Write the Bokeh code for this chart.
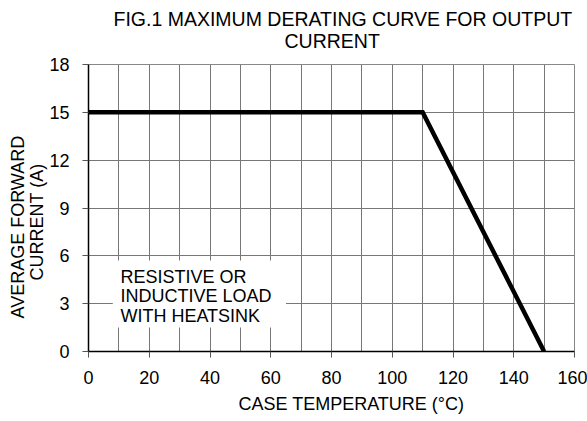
from bokeh.plotting import figure
from bokeh.models import Title, BoxAnnotation, Label, FixedTicker, Range1d
from bokeh.embed import file_html
from bokeh.resources import INLINE

# Data
case_temp = [0, 110, 150]
avg_current = [15, 15, 0]
x_ticks = [0, 20, 40, 60, 80, 100, 120, 140, 160]
y_ticks = [0, 3, 6, 9, 12, 15, 18]
x_grid = [0, 10, 20, 30, 40, 50, 60, 70, 80, 90, 100, 110, 120, 130, 140, 150, 160]

title_lines = ["FIG.1 MAXIMUM DERATING CURVE FOR OUTPUT", "CURRENT"]
y_label_lines = ["AVERAGE FORWARD", "CURRENT (A)"]
x_label = "CASE TEMPERATURE (°C)"
note_text = "RESISTIVE OR\nINDUCTIVE LOAD\nWITH HEATSINK"

FONT = "Liberation Sans"

p = figure(width=587, height=421, x_range=Range1d(0, 160), y_range=Range1d(0, 18),
           output_backend="svg", toolbar_location=None, title=None,
           min_border_left=88, min_border_right=13, min_border_top=64, min_border_bottom=70)

p.background_fill_color = "white"
p.border_fill_color = "white"
p.outline_line_color = "#888888"

p.xaxis.ticker = FixedTicker(ticks=x_ticks)
p.yaxis.ticker = FixedTicker(ticks=y_ticks)
p.xgrid.ticker = FixedTicker(ticks=x_grid)
p.xgrid.grid_line_color = "#777777"
p.ygrid.grid_line_color = "#777777"

for ax in (p.xaxis, p.yaxis):
    ax.axis_line_color = "black"
    ax.axis_line_width = 1.5
    ax.major_tick_line_color = "#555555"
    ax.major_tick_out = 6
    ax.major_tick_in = 0
    ax.minor_tick_line_color = None
    ax.major_label_text_font = FONT
    ax.major_label_text_font_size = "18px"
    ax.major_label_text_color = "black"
p.yaxis.major_label_standoff = 13
p.xaxis.major_label_standoff = 13

p.line(case_temp, avg_current, line_width=4.5, color="black", line_join="miter")

box = BoxAnnotation(left=8, right=65, bottom=1.5, top=5.7, fill_color="white",
                    fill_alpha=1, line_color=None)
p.add_layout(box)
p.add_layout(Label(x=10.5, y=5.3, text=note_text, text_align="left", text_baseline="top",
                   text_font=FONT, text_font_size="18px", text_color="black",
                   text_line_height=0.97))


def ttl(text, size, offset, standoff, align="left"):
    return Title(text=text, align=align, text_font=FONT, text_font_size=size,
                 text_font_style="normal", text_color="black", offset=offset,
                 standoff=standoff)


p.add_layout(ttl(title_lines[1], "19.5px", 196, 25), "above")
p.add_layout(ttl(title_lines[0], "19.5px", 25, -29), "above")
p.add_layout(ttl(y_label_lines[1], "18px", 71, 0), "left")
p.add_layout(ttl(y_label_lines[0], "18px", 33, -6), "left")
p.add_layout(ttl(x_label, "18px", 150, 10), "below")

open("out.html", "w").write(file_html(p, INLINE))
